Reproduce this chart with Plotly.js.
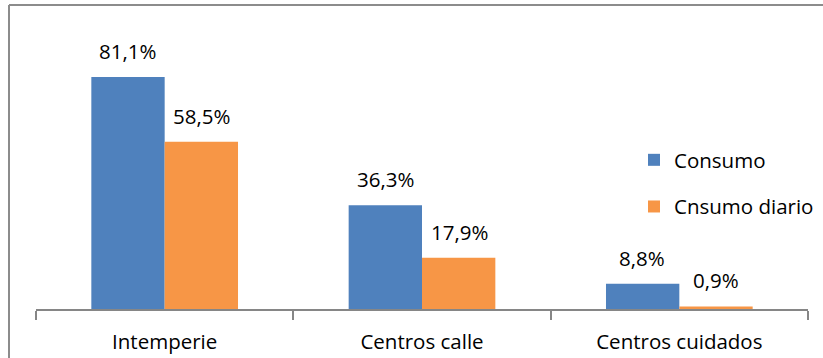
<!DOCTYPE html>
<html>
<head>
<meta charset="utf-8">
<script src="https://cdn.plot.ly/plotly-3.0.1.min.js"></script>
<style>html,body{margin:0;padding:0;background:#fff;}#chart{width:823px;height:358px;}</style>
</head>
<body>
<div id="chart"></div>
<script>
const categories = ["Intemperie", "Centros calle", "Centros cuidados"];
const seriesNames = ["Consumo", "Cnsumo diario"];
const consumo = [81.1, 36.3, 8.8];
const consumoDiario = [58.5, 17.9, 0.9];
const colors = ["#4F81BD", "#F79646"];

const fmt = v => v.toFixed(1).replace('.', ',') + '%';
const FONT = "Open Sans, sans-serif";

const L = 36, R = 15, T = 23, B = 49, W = 823, H = 358;
const pw = W - L - R, ph = H - T - B;
const px = x => (x - L) / pw;
const py = y => (H - B - y) / ph;

const series = [consumo, consumoDiario];
const traces = series.map((vals, i) => ({
  type: 'bar',
  name: seriesNames[i],
  x: categories,
  y: vals,
  marker: {color: colors[i]},
  legendgroup: 'g' + i,
  hoverinfo: 'x+y'
}));

const annotations = [];
series.forEach((vals, i) => {
  vals.forEach((v, j) => {
    annotations.push({
      x: categories[j], y: v, xref: 'x', yref: 'y',
      text: fmt(v), showarrow: false,
      xanchor: 'center', yanchor: 'bottom',
      xshift: i === 0 ? -37 : 37, yshift: 10,
      font: {family: FONT, size: 20.5, color: '#000'}
    });
  });
});

const layout = {
  width: W, height: H,
  margin: {l: L, r: R, t: T, b: B, pad: 0, autoexpand: false},
  paper_bgcolor: '#fff', plot_bgcolor: '#fff',
  barmode: 'group', bargap: 0.43, bargroupgap: 0,
  showlegend: true,
  legend: {
    x: px(634), y: py(140), xanchor: 'left', yanchor: 'top',
    font: {family: FONT, size: 20.5, color: '#000'},
    traceorder: 'grouped', tracegroupgap: 17,
    bgcolor: 'rgba(0,0,0,0)'
  },
  xaxis: {
    type: 'category',
    automargin: false,
    showline: true, linecolor: '#868686', linewidth: 2,
    ticks: 'outside', tickson: 'boundaries', ticklen: 9, tickcolor: '#868686', tickwidth: 2,
    ticklabelstandoff: 13,
    tickfont: {family: FONT, size: 20.5, color: '#000'},
    showgrid: false, zeroline: false, fixedrange: true
  },
  yaxis: {
    range: [0, 100], visible: false, showgrid: false, zeroline: false, fixedrange: true
  },
  annotations: annotations,
  shapes: [
    {type: 'line', xref: 'paper', yref: 'paper', x0: px(9), x1: px(830), y0: py(5), y1: py(5), line: {color: '#8C8C8C', width: 2}},
    {type: 'line', xref: 'paper', yref: 'paper', x0: px(9), x1: px(9), y0: py(5), y1: py(365), line: {color: '#8C8C8C', width: 2}}
  ]
};

Plotly.newPlot('chart', traces, layout, {displayModeBar: false, staticPlot: true});
</script>
</body>
</html>
